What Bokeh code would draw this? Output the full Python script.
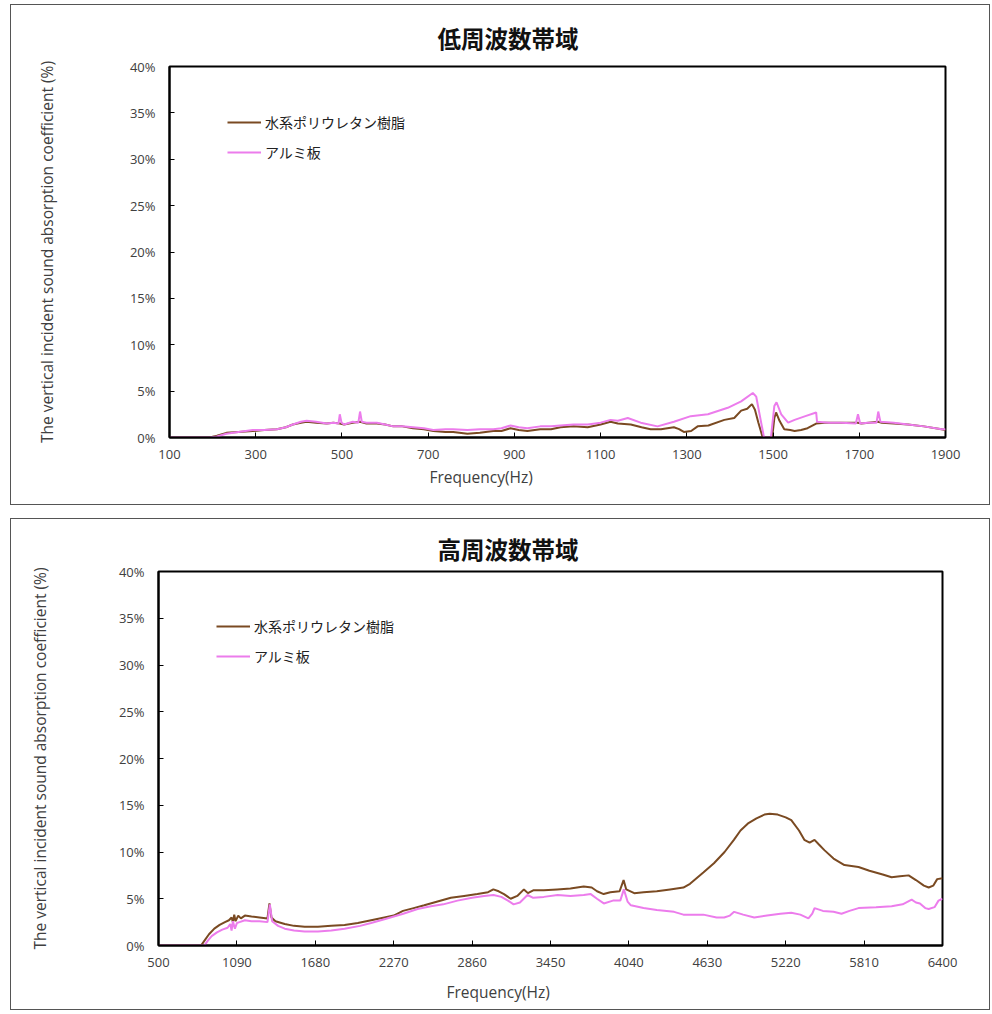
from bokeh.plotting import figure
from bokeh.models import Range1d, Title, Legend, LegendItem, FixedTicker, PrintfTickFormatter
from bokeh.layouts import column, row
from bokeh.embed import file_html
from bokeh.resources import INLINE

# ---------------- data ----------------
low_title = "低周波数帯域"
high_title = "高周波数帯域"
series_names = ["水系ポリウレタン樹脂", "アルミ板"]
y_label = "The vertical incident sound absorption coefficient (%)"
x_label = "Frequency(Hz)"

low_xticks = [100, 300, 500, 700, 900, 1100, 1300, 1500, 1700, 1900]
high_xticks = [500, 1090, 1680, 2270, 2860, 3450, 4040, 4630, 5220, 5810, 6400]
y_ticks = [0, 5, 10, 15, 20, 25, 30, 35, 40]

low_brown_f = [100, 150, 193, 210, 232, 260, 293, 320, 349, 370, 386, 405, 418, 440, 465, 480,
               495, 505, 525, 542, 557, 581, 600, 619, 640, 665, 690, 712, 740, 758, 791, 820,
               851, 870, 891, 910, 930, 960, 985, 1007, 1037, 1070, 1100, 1123, 1140, 1170,
               1195, 1216, 1240, 1270, 1282, 1293, 1310, 1325, 1350, 1387, 1410, 1426, 1440,
               1451, 1458, 1466, 1476, 1490, 1498, 1503, 1507, 1515, 1526, 1540, 1550, 1565,
               1580, 1600, 1620, 1658, 1697, 1705, 1744, 1752, 1780, 1813, 1850, 1891, 1900]
low_brown_v = [0.0, 0.0, 0.0, 0.2, 0.5, 0.6, 0.7, 0.8, 0.9, 1.1, 1.4, 1.6, 1.7, 1.6, 1.5, 1.6,
               1.5, 1.4, 1.6, 1.7, 1.5, 1.5, 1.4, 1.2, 1.2, 1.0, 0.9, 0.7, 0.6, 0.6, 0.4, 0.5,
               0.7, 0.7, 1.0, 0.8, 0.7, 0.9, 0.9, 1.1, 1.2, 1.1, 1.4, 1.7, 1.5, 1.4,
               1.1, 0.9, 0.9, 1.1, 0.9, 0.6, 0.7, 1.2, 1.3, 1.9, 2.1, 2.9, 3.1,
               3.6, 3.0, 1.6, 0.0, 0.0, 0.0, 2.1, 2.7, 1.8, 0.9, 0.8, 0.7, 0.8,
               1.0, 1.5, 1.6, 1.6, 1.6, 1.5, 1.7, 1.6, 1.5, 1.4, 1.2, 0.9, 0.8]

low_pink_f = [100, 150, 193, 210, 232, 260, 293, 320, 349, 370, 386, 405, 418, 440, 465, 480,
              492, 495, 499, 505, 525, 538, 542, 546, 557, 581, 600, 619, 640, 665, 690, 712,
              740, 758, 791, 820, 851, 870, 891, 910, 930, 960, 985, 1007, 1037, 1070, 1100,
              1123, 1140, 1163, 1193, 1232, 1270, 1309, 1349, 1395, 1426, 1453, 1461, 1470,
              1479, 1495, 1503, 1508, 1519, 1535, 1550, 1575, 1600, 1602, 1630, 1658, 1692,
              1697, 1702, 1720, 1740, 1744, 1749, 1780, 1813, 1850, 1891, 1900]
low_pink_v = [0.0, 0.0, 0.0, 0.1, 0.4, 0.6, 0.8, 0.8, 0.9, 1.1, 1.4, 1.7, 1.8, 1.7, 1.5, 1.6,
              1.5, 2.5, 1.6, 1.4, 1.7, 1.6, 2.8, 1.7, 1.6, 1.6, 1.4, 1.2, 1.2, 1.1, 1.0, 0.8,
              0.9, 0.9, 0.8, 0.9, 0.9, 1.0, 1.3, 1.1, 1.0, 1.2, 1.2, 1.3, 1.4, 1.4, 1.6,
              1.9, 1.8, 2.1, 1.6, 1.2, 1.7, 2.3, 2.5, 3.2, 3.9, 4.8, 4.4, 2.2,
              0.0, 0.0, 3.4, 3.8, 2.5, 1.6, 1.9, 2.3, 2.7, 1.7, 1.6, 1.6, 1.5,
              2.5, 1.5, 1.6, 1.6, 2.8, 1.7, 1.6, 1.4, 1.2, 0.9, 0.9]

high_brown_f = [500, 820, 850, 880, 920, 960, 1000, 1030, 1050, 1060, 1070, 1080, 1100, 1120,
                1150, 1200, 1260, 1320, 1335, 1350, 1380, 1450, 1520, 1600, 1700, 1800, 1900,
                2000, 2100, 2200, 2270, 2340, 2420, 2500, 2600, 2700, 2800, 2900, 2980, 3020,
                3060, 3100, 3150, 3200, 3250, 3280, 3320, 3400, 3500, 3600, 3700, 3760, 3800,
                3850, 3900, 3970, 4000, 4020, 4080, 4150, 4250, 4350, 4450, 4500, 4600, 4680,
                4760, 4830, 4880, 4940, 5000, 5060, 5100, 5160, 5220, 5262, 5320, 5360, 5400,
                5437, 5470, 5511, 5580, 5662, 5768, 5850, 5950, 6017, 6080, 6145, 6200, 6260,
                6296, 6330, 6360, 6400]
high_brown_v = [0.0, 0.0, 0.6, 1.2, 1.8, 2.2, 2.5, 2.7, 3.0, 2.5, 3.3, 2.6, 3.2, 2.9,
                3.2, 3.1, 3.0, 2.9, 4.5, 3.0, 2.6, 2.3, 2.1, 2.0, 2.0, 2.1, 2.2,
                2.4, 2.7, 3.0, 3.2, 3.7, 4.0, 4.3, 4.7, 5.1, 5.3, 5.5, 5.7, 6.0,
                5.8, 5.5, 5.0, 5.3, 6.0, 5.6, 5.9, 5.9, 6.0, 6.1, 6.3, 6.2, 5.8,
                5.5, 5.7, 5.8, 7.0, 6.0, 5.6, 5.7, 5.8, 6.0, 6.2, 6.6, 7.8, 8.8,
                10.0, 11.3, 12.3, 13.1, 13.6, 14.0, 14.1, 14.0, 13.7, 13.4, 12.3, 11.3, 11.0,
                11.3, 10.8, 10.2, 9.3, 8.6, 8.4, 8.0, 7.6, 7.3, 7.4, 7.5, 7.0, 6.4,
                6.2, 6.4, 7.1, 7.2]

high_pink_f = [500, 845, 870, 900, 940, 980, 1020, 1040, 1050, 1060, 1075, 1090, 1110, 1150,
               1200, 1260, 1320, 1338, 1355, 1400, 1450, 1520, 1600, 1700, 1800, 1900, 2017,
               2100, 2200, 2342, 2450, 2550, 2643, 2750, 2860, 2950, 3021, 3080, 3130, 3172,
               3220, 3277, 3320, 3400, 3504, 3600, 3700, 3753, 3800, 3851, 3920, 3975, 4002,
               4030, 4055, 4150, 4250, 4380, 4450, 4508, 4600, 4700, 4757, 4800, 4832, 4900,
               4983, 5080, 5180, 5262, 5330, 5391, 5420, 5437, 5500, 5580, 5640, 5700, 5768,
               5900, 6017, 6100, 6168, 6200, 6230, 6270, 6296, 6340, 6370, 6400]
high_pink_v = [0.0, 0.0, 0.5, 1.0, 1.4, 1.7, 1.9, 2.3, 1.6, 2.6, 1.8, 2.4, 2.5, 2.7,
               2.6, 2.6, 2.5, 4.4, 2.6, 2.1, 1.8, 1.6, 1.5, 1.5, 1.6, 1.8, 2.1,
               2.4, 2.8, 3.4, 3.9, 4.2, 4.4, 4.8, 5.1, 5.3, 5.4, 5.2, 4.8, 4.4,
               4.6, 5.4, 5.1, 5.2, 5.4, 5.3, 5.4, 5.5, 5.0, 4.5, 4.8, 4.8, 6.0,
               4.7, 4.3, 4.0, 3.8, 3.6, 3.3, 3.3, 3.3, 3.0, 3.0, 3.2, 3.6, 3.3,
               3.0, 3.2, 3.4, 3.5, 3.3, 2.9, 3.4, 4.0, 3.7, 3.6, 3.4, 3.7, 4.0,
               4.1, 4.2, 4.4, 4.9, 4.6, 4.5, 4.0, 3.9, 4.1, 4.8, 5.0]

BROWN = "#7A4A22"
PINK = "#EC7CEC"
TXT = "#404040"


def make_panel(title, xticks, brown, pink, frame_w, frame_h, mb_left, mb_right, mb_top,
               mb_bottom, title_off, title_stand, xlab_off, xlab_stand, ylab_stand, leg_xy):
    p = figure(frame_width=frame_w, frame_height=frame_h,
               min_border_left=mb_left, min_border_right=mb_right,
               min_border_top=mb_top, min_border_bottom=mb_bottom,
               x_range=Range1d(xticks[0], xticks[-1]), y_range=Range1d(0, 40),
               output_backend="svg", toolbar_location=None)
    p.styles = {"border": "1px solid #555"}
    p.xgrid.visible = False
    p.ygrid.visible = False
    p.outline_line_color = "black"
    p.outline_line_width = 2
    p.background_fill_color = "white"
    p.border_fill_color = "white"
    for ax in (p.xaxis[0], p.yaxis[0]):
        ax.axis_line_color = "black"
        ax.axis_line_width = 2
        ax.major_tick_in = 5
        ax.major_tick_out = 0
        ax.major_tick_line_color = "black"
        ax.major_tick_line_width = 1
        ax.minor_tick_line_color = None
        ax.major_label_text_font = "Open Sans"
        ax.major_label_text_font_size = "13px"
        ax.major_label_text_color = TXT
    p.xaxis[0].ticker = FixedTicker(ticks=xticks)
    p.xaxis[0].major_label_standoff = 12
    yax = p.yaxis[0]
    yax.ticker = FixedTicker(ticks=y_ticks)
    yax.formatter = PrintfTickFormatter(format="%d%%")
    yax.major_label_standoff = 14
    yax.axis_label = y_label
    yax.axis_label_standoff = ylab_stand
    yax.axis_label_text_font = "Open Sans"
    yax.axis_label_text_font_size = "15.5px"
    yax.axis_label_text_font_style = "normal"
    yax.axis_label_text_color = TXT

    r1 = p.line(brown[0], brown[1], line_color=BROWN, line_width=2)
    r2 = p.line(pink[0], pink[1], line_color=PINK, line_width=2)

    leg = Legend(items=[LegendItem(label=series_names[0], renderers=[r1]),
                        LegendItem(label=series_names[1], renderers=[r2])],
                 location=leg_xy, padding=0, margin=0, spacing=10,
                 glyph_width=34, glyph_height=20, label_height=20, label_standoff=4,
                 label_text_font="Noto Sans CJK JP", label_text_font_size="14px",
                 label_text_color="#222222", border_line_alpha=0,
                 background_fill_alpha=0)
    p.add_layout(leg)

    p.add_layout(Title(text=title, align="left", offset=title_off, standoff=title_stand,
                       text_font="Noto Sans CJK JP", text_font_size="23.5px",
                       text_font_style="bold", text_color="#111111"), "above")
    p.add_layout(Title(text=x_label, align="left", offset=xlab_off, standoff=xlab_stand,
                       text_font="Open Sans", text_font_size="15.5px",
                       text_font_style="normal", text_color=TXT), "below")
    return p


p1 = make_panel(low_title, low_xticks, (low_brown_f, low_brown_v), (low_pink_f, low_pink_v),
                774, 369, 158, 46, 61, 69, 268, 24, 260, 5, 69, (58, 275))
p2 = make_panel(high_title, high_xticks, (high_brown_f, high_brown_v),
                (high_pink_f, high_pink_v),
                782, 372, 147, 49, 52, 65, 279, 12, 288, 18, 65, (58, 279))

layout = column(row(p1), row(p2), spacing=13, margin=(4, 0, 0, 10))
open("out.html", "w").write(file_html(layout, INLINE))
